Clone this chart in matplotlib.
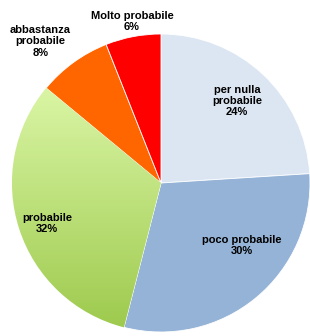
import matplotlib
matplotlib.use("Agg")
import matplotlib.pyplot as plt
import numpy as np
from matplotlib.colors import LinearSegmentedColormap

plt.rcParams['font.family'] = ['Liberation Sans', 'DejaVu Sans']

categories = ["per nulla\nprobabile", "poco probabile", "probabile", "abbastanza\nprobabile", "Molto probabile"]
values = [24, 30, 32, 8, 6]
colors = ["#dce6f2", "#95b3d7", "#c4e68a", "#ff6600", "#ff0000"]
# label positions (x, y) in pie data units
label_pos = [(0.51, 0.55), (0.54, -0.42), (-0.765, -0.27), (-0.81, 0.95), (-0.195, 1.084)]

fig = plt.figure(figsize=(3.10, 3.36), dpi=100)
ax = fig.add_axes([12/310, (336-183-149)/336, 298/310, 298/336])
wedges, _ = ax.pie(values, colors=colors, startangle=90, counterclock=False,
                   radius=1.0, wedgeprops=dict(linewidth=0.6, edgecolor="white"))

# gradient fill for the green slice
g = wedges[2]
cmap = LinearSegmentedColormap.from_list("g", ["#dcf7a8", "#9bc84a"])
grad = np.linspace(0, 1, 256).reshape(-1, 1)
im = ax.imshow(grad, cmap=cmap, extent=[-1.05, 0.1, -1.05, 0.7], origin="upper",
               aspect="auto", zorder=g.get_zorder() + 0.1)
im.set_clip_path(g)

for cat, v, (x, y) in zip(categories, values, label_pos):
    ax.text(x, y, f"{cat}\n{v}%", ha="center", va="center", fontsize=8,
            fontweight="bold", color="black", linespacing=1.15, zorder=10)

ax.set_xlim(-1, 1)
ax.set_ylim(-1, 1)
ax.set_aspect("equal")
ax.axis("off")
fig.savefig("out.png", dpi=100)
